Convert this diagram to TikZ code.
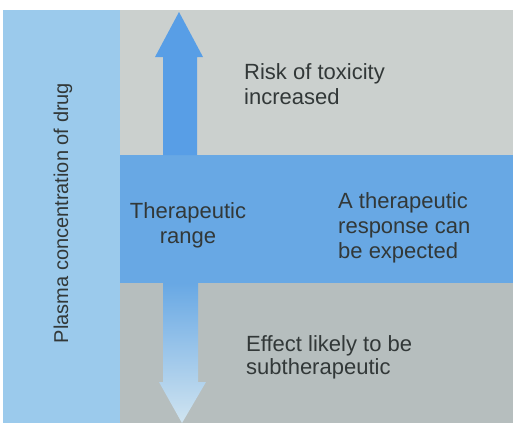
\documentclass[tikz,border=0pt]{standalone}
\usepackage{fontspec}
\setmainfont{Liberation Sans}
\definecolor{sideblue}{RGB}{155,202,236}
\definecolor{bandblue}{RGB}{104,168,228}
\definecolor{arrowblue}{RGB}{88,158,230}
\definecolor{fadeblue}{RGB}{208,228,240}
\definecolor{greyhigh}{RGB}{203,208,206}
\definecolor{greylow}{RGB}{182,190,190}
\definecolor{inkgrey}{RGB}{50,56,56}
\tikzset{
  label/.style={inner sep=0pt, text=inkgrey, align=left, font=\fontsize{22}{25}\selectfont},
}
\begin{document}
\begin{tikzpicture}[x=1pt,y=-1pt]
		\useasboundingbox (0,0) rectangle (513,423);
		\fill[white] (0,0) rectangle (513,423);
		\fill[sideblue] (3,10) rectangle (120,423);
		\fill[greyhigh] (120,10) rectangle (513,155);
		\fill[bandblue] (120,155) rectangle (513,283);
		\fill[greylow] (120,283) rectangle (513,423);
		\fill[arrowblue] (163,155) -- (163,57) -- (155,57) -- (179,12) -- (203,57) -- (197,57) -- (197,155) -- cycle;
		\shade[top color=bandblue, bottom color=fadeblue] (163,283) -- (163,382) -- (159,382) -- (182,423) -- (206,382) -- (198,382) -- (198,283) -- cycle;
		\node[label, rotate=90, font=\fontsize{20}{24}\selectfont] (axis) at (63,213) {Plasma concentration of drug};
		\node[label, anchor=base west] (toxic) at (244,104) {Risk of toxicity\\increased};
		\node[label, anchor=base, align=center] (range) at (188,243) {Therapeutic\\range};
		\node[label, anchor=base west] (response) at (338,258) {A therapeutic\\response can\\be expected};
		\node[label, anchor=base west, font=\fontsize{22}{23}\selectfont] (subther) at (246,374) {Effect likely to be\\subtherapeutic};
\end{tikzpicture}
\end{document}
